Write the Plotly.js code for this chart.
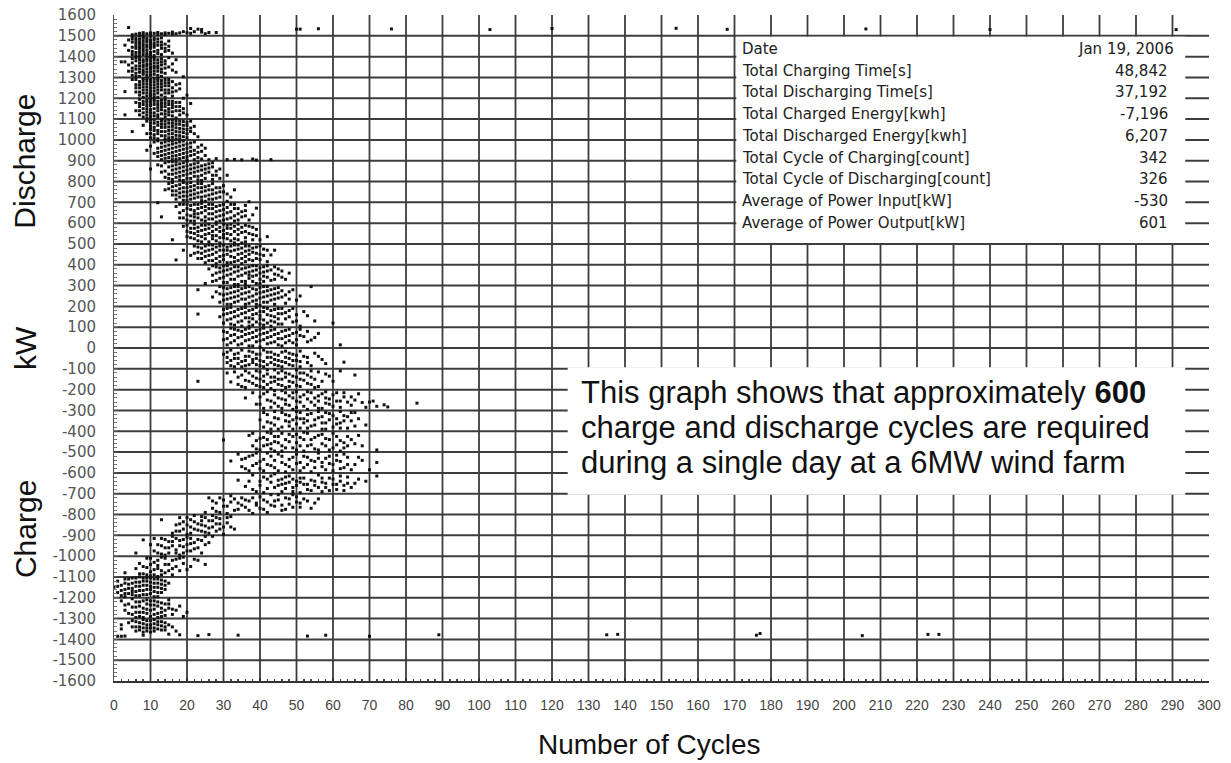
<!DOCTYPE html>
<html>
<head>
<meta charset="utf-8">
<script src="https://cdn.plot.ly/plotly-3.0.1.min.js"></script>
<style>html,body{margin:0;padding:0;background:#fff;}</style>
</head>
<body>
<div id="chart" style="width:1231px;height:763px;"></div>
<script>
// ---- Data: [cycles, kW] ----
const ptsTop = [[4,1540],[21,1535],[23,1532],[24,1530],[50,1532],[51,1532],[56,1534],[76,1533],[103,1530],[120,1535],[154,1536],[168,1531],[206,1533],[240,1530],[291,1530],
  [7,1512],[8,1515],[9,1510],[10,1514],[11,1512],[12,1516],[13,1510],[14,1514],[15,1512],[16,1518],[17,1510],[18,1514],[19,1520],[20,1515],[22,1520],[24,1518],[26,1516],
  [5,1505],[6,1508],[8,1505],[10,1506],[12,1505],[14,1506],[16,1508],[21,1512],[25,1510],[28,1516]];
const pts1400 = [[4,1480],[4,1430],[5,1495],[5,1470],[5,1445],[5,1410],[6,1490],[6,1465],[6,1440],[6,1420],[7,1500],[7,1485],[7,1460],[7,1435],[7,1405],[8,1495],[8,1475],[8,1450],[8,1425],[8,1410],[9,1490],[9,1470],[9,1455],[9,1430],[9,1415],[10,1498],[10,1480],[10,1460],[10,1440],[10,1420],[11,1490],[11,1465],[11,1445],[11,1405],[12,1485],[12,1455],[12,1430],[13,1470],[13,1440],[13,1410],[14,1460],[14,1425],[15,1450],[16,1417],[3,1455]];
const pts1400b = [[5,1485],[5,1425],[6,1478],[6,1452],[6,1405],[7,1472],[7,1448],[7,1420],[8,1488],[8,1462],[8,1438],[9,1480],[9,1445],[9,1405],[10,1470],[10,1450],[10,1410],[11,1480],[11,1455],[11,1425],[12,1470],[12,1415],[13,1490],[13,1455],[14,1440],[15,1475],[15,1430]];
const pts1300 = [[2,1375],[3,1375],[4,1360],[4,1330],[5,1390],[5,1345],[5,1310],[6,1380],[6,1355],[6,1320],[7,1395],[7,1370],[7,1340],[7,1305],[8,1385],[8,1360],[8,1335],[8,1315],[9,1390],[9,1365],[9,1340],[9,1310],[10,1380],[10,1350],[10,1325],[11,1395],[11,1370],[11,1345],[11,1315],[12,1385],[12,1355],[12,1330],[13,1375],[13,1340],[13,1305],[14,1365],[14,1320],[15,1395],[15,1350],[16,1335],[17,1325],[19,1303]];
const pts1300b = [[5,1370],[5,1330],[6,1395],[6,1340],[6,1305],[7,1385],[7,1355],[7,1325],[8,1375],[8,1350],[8,1325],[9,1380],[9,1355],[9,1325],[10,1395],[10,1365],[10,1340],[10,1310],[11,1385],[11,1355],[11,1330],[12,1370],[12,1345],[12,1310],[13,1390],[13,1360],[13,1325],[14,1380],[14,1345],[16,1365],[17,1385]];
const pts1200 = [[3,1232],[5,1290],[6,1265],[6,1230],[7,1280],[7,1250],[7,1215],[8,1295],[8,1270],[8,1240],[8,1205],[9,1285],[9,1255],[9,1225],[10,1290],[10,1265],[10,1235],[10,1210],[11,1280],[11,1250],[11,1220],[12,1295],[12,1270],[12,1240],[12,1205],[13,1285],[13,1255],[13,1215],[14,1275],[14,1240],[15,1290],[15,1260],[15,1225],[16,1250],[16,1210],[17,1265],[17,1235],[18,1245],[19,1200],[20,1215],[14,1205]];
const pts1200b = [[6,1290],[6,1250],[7,1265],[7,1230],[8,1285],[8,1255],[8,1225],[9,1295],[9,1270],[9,1240],[9,1210],[10,1280],[10,1250],[10,1222],[11,1295],[11,1265],[11,1235],[11,1207],[12,1285],[12,1255],[12,1225],[13,1270],[13,1240],[14,1290],[14,1260],[14,1225],[15,1275],[15,1240],[16,1280],[16,1230],[18,1270]];
const pts1100 = [[3,1120],[6,1180],[6,1140],[7,1195],[7,1160],[7,1120],[8,1185],[8,1150],[8,1110],[9,1190],[9,1165],[9,1135],[9,1105],[10,1180],[10,1145],[10,1115],[11,1195],[11,1170],[11,1130],[12,1185],[12,1155],[12,1120],[13,1190],[13,1160],[13,1125],[13,1100],[14,1175],[14,1140],[14,1110],[15,1185],[15,1150],[15,1120],[16,1170],[16,1135],[17,1160],[17,1105],[18,1180],[18,1140],[19,1150],[21,1175],[20,1120]];
const pts1100b = [[7,1175],[7,1140],[8,1170],[8,1130],[9,1180],[9,1150],[9,1120],[10,1195],[10,1165],[10,1130],[10,1105],[11,1185],[11,1150],[11,1115],[12,1170],[12,1140],[12,1108],[13,1175],[13,1145],[14,1190],[14,1160],[14,1125],[15,1170],[15,1135],[16,1185],[16,1155],[16,1115],[17,1180],[17,1140],[18,1160],[18,1120],[19,1130]];
const pts1000 = [[5,1040],[8,1070],[9,1090],[9,1030],[10,1080],[10,1050],[10,1010],[11,1095],[11,1060],[11,1025],[12,1085],[12,1045],[12,1005],[13,1075],[13,1040],[14,1090],[14,1060],[14,1020],[15,1080],[15,1045],[15,1010],[16,1095],[16,1065],[16,1030],[17,1075],[17,1040],[17,1005],[18,1090],[18,1055],[18,1020],[19,1070],[19,1035],[20,1085],[20,1050],[20,1010],[21,1057],[22,1030],[23,1015]];
const pts1000b = [[10,1095],[10,1065],[10,1030],[11,1080],[11,1045],[11,1010],[12,1070],[12,1030],[13,1090],[13,1060],[13,1020],[14,1075],[14,1040],[14,1005],[15,1095],[15,1062],[15,1028],[16,1080],[16,1048],[16,1012],[17,1090],[17,1058],[17,1022],[18,1075],[18,1038],[18,1005],[19,1088],[19,1052],[19,1015],[20,1070],[20,1030],[21,1090],[21,1040],[22,1065]];
const pts900 = [[9,950],[10,970],[11,990],[11,935],[12,960],[12,920],[13,985],[13,945],[13,905],[14,970],[14,930],[15,995],[15,955],[15,915],[16,980],[16,940],[16,905],[17,965],[17,925],[18,990],[18,950],[18,910],[19,975],[19,935],[20,960],[20,920],[21,985],[21,945],[22,930],[22,905],[23,965],[24,945],[24,908],[26,905],[28,910],[31,905],[33,906],[35,904],[38,908],[39,903],[43,905],[25,925]];
const pts900b = [[12,995],[12,940],[13,965],[13,925],[14,990],[14,950],[14,912],[15,975],[15,935],[16,995],[16,960],[16,922],[17,985],[17,945],[17,908],[18,970],[18,930],[19,995],[19,955],[19,915],[20,980],[20,940],[20,905],[21,965],[21,925],[22,990],[22,950],[23,940],[23,915],[24,975],[25,960]];
const pts800 = [[10,860],[12,880],[13,845],[14,890],[14,820],[15,870],[15,835],[16,895],[16,855],[16,810],[17,880],[17,840],[18,865],[18,825],[19,890],[19,850],[19,805],[20,875],[20,835],[21,860],[21,815],[22,885],[22,845],[23,870],[23,825],[24,855],[24,805],[25,880],[25,840],[26,865],[27,830],[28,850],[29,815],[31,830],[27,890]];
const pts800b = [[13,875],[14,850],[15,895],[15,815],[16,875],[16,835],[17,895],[17,860],[17,820],[18,885],[18,845],[18,808],[19,870],[19,830],[20,895],[20,855],[20,815],[21,880],[21,840],[22,865],[22,825],[23,890],[23,850],[23,808],[24,875],[24,830],[25,860],[25,815],[26,885],[26,845],[27,870],[27,810],[28,830],[29,860]];
const pts700 = [[14,760],[15,790],[16,775],[16,735],[17,755],[17,715],[18,785],[18,745],[19,770],[19,730],[20,790],[20,750],[20,710],[21,775],[21,735],[22,760],[22,720],[23,790],[23,745],[24,770],[24,725],[25,755],[25,705],[26,780],[26,735],[27,760],[27,715],[28,745],[29,770],[29,725],[30,750],[31,705],[32,725],[37,703],[12,698]];
const pts700b = [[15,765],[16,795],[16,755],[17,780],[17,735],[18,765],[18,725],[19,795],[19,750],[19,710],[20,770],[20,730],[21,795],[21,755],[21,715],[22,780],[22,740],[23,770],[23,725],[24,790],[24,750],[24,708],[25,775],[25,730],[26,760],[26,715],[27,790],[27,740],[28,770],[28,720],[29,750],[30,780],[31,740],[33,760]];
const pts600 = [[13,630],[17,680],[18,650],[19,690],[19,625],[20,670],[20,640],[21,685],[21,610],[22,660],[22,630],[23,690],[23,645],[24,675],[24,615],[25,660],[25,630],[26,690],[26,645],[27,670],[27,620],[28,655],[28,605],[29,685],[29,635],[30,665],[30,615],[31,650],[32,690],[32,625],[33,670],[33,610],[34,645],[35,630],[36,660],[37,615],[39,672],[38,640]];
const pts600b = [[18,690],[18,625],[19,660],[20,690],[20,615],[21,665],[21,635],[22,690],[22,645],[22,610],[23,670],[23,625],[24,695],[24,650],[25,680],[25,610],[26,670],[26,620],[27,690],[27,645],[28,680],[28,630],[29,660],[29,610],[30,690],[30,640],[31,675],[31,620],[32,655],[33,690],[33,635],[34,670],[34,615],[35,655],[36,685],[36,635]];
const pts500 = [[16,520],[19,585],[20,560],[21,575],[21,530],[22,595],[22,550],[23,580],[23,515],[24,565],[24,535],[25,590],[25,545],[26,575],[26,510],[27,560],[27,525],[28,595],[28,540],[29,580],[29,505],[30,565],[30,530],[31,590],[31,550],[32,575],[32,515],[33,560],[33,525],[34,595],[34,545],[35,580],[35,505],[36,560],[36,530],[37,585],[38,545],[39,570],[40,520],[42,535]];
const pts500b = [[20,590],[20,535],[21,555],[22,575],[22,525],[23,560],[23,540],[24,590],[24,510],[25,570],[25,525],[26,595],[26,550],[27,585],[27,540],[28,570],[28,515],[29,560],[29,530],[30,595],[30,545],[31,575],[31,525],[32,595],[32,545],[33,585],[33,505],[34,570],[34,520],[35,555],[36,590],[36,510],[37,550],[38,580],[38,520],[39,540]];
const pts400 = [[17,423],[19,470],[21,445],[22,490],[23,460],[24,480],[24,430],[25,465],[25,410],[26,495],[26,445],[27,475],[27,420],[28,460],[28,405],[29,490],[29,440],[30,470],[30,425],[31,485],[31,450],[32,465],[32,410],[33,495],[33,435],[34,475],[34,420],[35,455],[35,405],[36,490],[36,440],[37,470],[37,425],[38,460],[39,485],[39,430],[40,450],[41,475],[42,415],[43,447],[44,470]];
const pts400b = [[22,455],[23,485],[23,430],[24,455],[25,490],[25,440],[26,470],[26,420],[27,495],[27,450],[28,485],[28,430],[29,470],[29,415],[30,495],[30,445],[31,470],[31,410],[32,490],[32,440],[33,470],[33,415],[34,495],[34,450],[35,480],[35,430],[36,465],[36,415],[37,490],[37,450],[38,480],[38,420],[39,455],[40,490],[40,425],[41,445],[42,470]];
const pts300 = [[25,310],[26,380],[27,350],[28,390],[28,325],[29,365],[30,395],[30,340],[31,375],[31,315],[32,355],[33,390],[33,330],[34,370],[34,305],[35,350],[36,385],[36,320],[37,365],[37,335],[38,395],[38,345],[39,375],[39,310],[40,360],[40,330],[41,390],[41,345],[42,370],[43,325],[44,355],[45,380],[46,340],[48,360]];
const pts300b = [[27,395],[27,320],[28,360],[29,385],[29,335],[30,370],[30,315],[31,395],[31,350],[32,380],[32,330],[33,365],[33,305],[34,390],[34,345],[35,380],[35,320],[36,360],[36,305],[37,390],[37,350],[38,370],[38,320],[39,395],[39,350],[40,385],[40,310],[41,365],[41,320],[42,395],[42,340],[43,375],[44,390],[44,330],[45,350],[46,370],[47,330]];
const pts200 = [[23,280],[27,245],[28,270],[29,295],[29,220],[30,255],[31,285],[31,235],[32,265],[32,210],[33,295],[33,245],[34,275],[34,225],[35,260],[36,290],[36,235],[37,270],[37,215],[38,250],[39,280],[39,230],[40,265],[40,205],[41,295],[41,245],[42,275],[42,220],[43,255],[44,285],[44,235],[45,265],[46,245],[47,215],[48,270],[50,230],[51,250],[54,295]];
const pts200b = [[29,260],[30,290],[30,230],[31,260],[31,210],[32,290],[32,240],[33,270],[33,220],[34,295],[34,250],[35,285],[35,235],[36,265],[36,210],[37,295],[37,245],[38,285],[38,225],[39,260],[39,210],[40,290],[40,240],[41,270],[41,220],[42,295],[42,250],[43,280],[43,230],[44,260],[44,210],[45,290],[45,240],[46,275],[47,255],[48,235],[49,280]];
const pts100 = [[23,163],[29,150],[30,185],[30,120],[31,165],[32,195],[32,140],[33,175],[33,110],[34,155],[35,190],[35,130],[36,170],[37,145],[37,105],[38,185],[38,160],[39,125],[40,175],[40,140],[41,195],[41,110],[42,160],[43,180],[43,130],[44,150],[45,190],[45,115],[46,165],[47,140],[48,180],[49,125],[50,160],[51,105],[53,155],[55,130],[60,120]];
const pts100b = [[30,160],[31,190],[31,135],[32,170],[32,115],[33,150],[34,185],[34,125],[35,165],[35,105],[36,195],[36,145],[37,180],[37,125],[38,140],[38,110],[39,195],[39,165],[40,155],[40,115],[41,175],[41,135],[42,190],[42,120],[43,155],[43,105],[44,185],[44,125],[45,165],[45,140],[46,190],[46,115],[47,170],[48,150],[49,190],[50,130],[52,175]];
const pts0 = [[30,80],[31,45],[32,95],[32,25],[33,65],[34,85],[34,15],[35,55],[36,90],[36,35],[37,70],[38,50],[38,10],[39,85],[39,30],[40,65],[41,95],[41,40],[42,75],[42,20],[43,55],[44,90],[44,30],[45,70],[46,45],[46,10],[47,85],[48,60],[49,25],[50,75],[50,40],[51,90],[52,55],[54,38],[56,70],[62,15]];
const pts0b = [[30,40],[31,75],[31,15],[32,60],[33,90],[33,35],[34,50],[35,80],[35,20],[36,65],[37,95],[37,40],[37,10],[38,75],[39,55],[40,90],[40,35],[40,5],[41,70],[42,50],[43,85],[43,25],[44,65],[45,45],[45,15],[46,80],[47,55],[47,25],[48,90],[48,35],[49,70],[50,15],[51,60],[53,80],[53,30],[55,50]];
const ptsM0 = [[30,-30],[31,-70],[32,-10],[33,-50],[33,-90],[34,-25],[35,-65],[36,-40],[36,-85],[37,-15],[38,-55],[39,-80],[39,-30],[40,-60],[41,-10],[41,-90],[42,-45],[43,-70],[43,-20],[44,-55],[45,-85],[45,-35],[46,-65],[47,-15],[48,-50],[48,-80],[49,-30],[50,-60],[51,-90],[52,-40],[53,-70],[55,-25],[57,-55],[63,-68]];
const ptsM0b = [[31,-45],[31,-20],[32,-60],[32,-85],[33,-30],[34,-75],[34,-50],[35,-10],[35,-90],[36,-60],[37,-40],[37,-80],[38,-20],[38,-70],[39,-50],[40,-30],[40,-85],[41,-65],[42,-20],[42,-80],[43,-45],[44,-30],[44,-80],[45,-60],[46,-20],[46,-90],[47,-45],[47,-70],[48,-25],[49,-60],[49,-85],[50,-35],[51,-15],[51,-65],[53,-45],[54,-85],[56,-40],[58,-75]];
const ptsM100 = [[23,-160],[31,-120],[32,-163],[34,-140],[35,-185],[36,-110],[37,-160],[38,-135],[39,-180],[40,-115],[40,-150],[41,-190],[42,-125],[43,-165],[44,-140],[44,-105],[45,-175],[46,-150],[47,-120],[47,-190],[48,-160],[49,-135],[50,-105],[50,-180],[51,-150],[52,-120],[53,-170],[54,-140],[55,-190],[56,-115],[57,-160],[59,-135],[62,-110],[66,-130]];
const ptsM100b = [[33,-115],[34,-175],[35,-130],[36,-155],[36,-190],[37,-120],[38,-170],[39,-145],[39,-110],[40,-185],[41,-135],[41,-160],[42,-105],[42,-175],[43,-140],[43,-195],[44,-160],[45,-120],[45,-150],[46,-110],[46,-180],[47,-140],[48,-125],[48,-185],[49,-165],[50,-140],[51,-120],[51,-185],[52,-155],[53,-130],[54,-110],[54,-175],[55,-150],[56,-185],[58,-125],[60,-160]];
const ptsM200 = [[36,-240],[38,-215],[39,-270],[40,-235],[41,-290],[42,-210],[43,-255],[44,-225],[45,-280],[46,-205],[46,-245],[47,-270],[48,-230],[49,-295],[49,-215],[50,-255],[51,-235],[52,-280],[53,-210],[54,-260],[55,-240],[56,-290],[57,-220],[58,-265],[59,-245],[60,-280],[61,-215],[62,-255],[63,-235],[65,-275],[66,-250],[68,-262],[70,-260],[72,-280],[74,-273],[75,-283],[83,-265]];
const ptsM200b = [[40,-270],[41,-220],[42,-250],[43,-285],[44,-205],[44,-265],[45,-240],[46,-290],[47,-215],[47,-250],[48,-275],[49,-240],[50,-210],[50,-285],[51,-260],[52,-225],[53,-295],[53,-245],[54,-215],[55,-275],[56,-230],[56,-255],[57,-290],[58,-210],[58,-240],[59,-270],[60,-225],[61,-255],[62,-285],[63,-215],[64,-260],[65,-235],[67,-220],[69,-285],[71,-255]];
const ptsM300 = [[40,-345],[41,-380],[42,-320],[43,-360],[44,-335],[45,-390],[46,-310],[47,-350],[48,-375],[48,-325],[49,-345],[50,-305],[51,-385],[51,-340],[52,-360],[53,-320],[54,-375],[55,-345],[56,-305],[57,-390],[57,-330],[58,-360],[59,-315],[60,-380],[61,-340],[62,-360],[63,-325],[64,-385],[65,-350],[66,-310],[69,-370],[67,-340]];
const ptsM300b = [[41,-310],[42,-355],[43,-390],[44,-305],[44,-370],[45,-340],[46,-380],[47,-320],[48,-355],[49,-390],[50,-335],[50,-365],[51,-310],[52,-340],[53,-385],[53,-350],[54,-315],[55,-370],[56,-335],[57,-360],[58,-310],[58,-390],[59,-345],[60,-325],[61,-365],[62,-305],[62,-385],[63,-350],[64,-330],[65,-310],[66,-375]];
const ptsM400 = [[30,-442],[37,-420],[38,-470],[39,-445],[40,-490],[41,-430],[42,-465],[43,-410],[43,-485],[44,-450],[45,-425],[46,-495],[46,-470],[47,-440],[48,-415],[49,-480],[50,-455],[51,-430],[52,-495],[52,-405],[53,-470],[54,-440],[55,-485],[56,-420],[57,-460],[58,-435],[59,-490],[60,-410],[61,-465],[62,-445],[63,-480],[64,-425],[66,-460],[68,-470],[72,-490]];
const ptsM400b = [[38,-410],[39,-485],[40,-435],[41,-470],[42,-405],[42,-440],[43,-460],[44,-425],[44,-495],[45,-455],[46,-410],[47,-480],[48,-450],[49,-425],[50,-490],[50,-415],[51,-470],[52,-440],[53,-410],[54,-465],[55,-430],[56,-490],[57,-415],[58,-470],[59,-440],[60,-480],[61,-425],[62,-495],[63,-455],[64,-470],[65,-440],[67,-420]];
const ptsM500 = [[32,-543],[34,-510],[35,-570],[36,-530],[37,-590],[38,-515],[39,-555],[40,-580],[41,-535],[42,-505],[43,-565],[44,-540],[45,-590],[46,-520],[47,-560],[48,-535],[49,-585],[50,-510],[51,-550],[52,-575],[53,-525],[54,-595],[55,-545],[56,-505],[57,-570],[58,-530],[59,-555],[60,-590],[61,-515],[62,-545],[63,-575],[64,-525],[66,-560],[68,-540],[72,-550],[70,-585]];
const ptsM500b = [[35,-535],[36,-580],[37,-520],[38,-565],[39,-505],[40,-545],[41,-590],[42,-560],[43,-520],[44,-575],[45,-510],[46,-550],[47,-595],[48,-570],[49,-525],[50,-555],[51,-590],[52,-520],[53,-560],[54,-540],[55,-575],[56,-530],[57,-550],[58,-585],[59,-520],[60,-560],[61,-540],[62,-580],[63,-510],[64,-560],[65,-585],[67,-525]];
const ptsM600 = [[34,-635],[36,-665],[38,-610],[39,-690],[40,-640],[41,-620],[42,-675],[43,-645],[44,-605],[45,-660],[46,-690],[46,-630],[47,-650],[48,-615],[49,-670],[50,-640],[51,-695],[51,-625],[52,-655],[53,-680],[54,-635],[55,-660],[56,-610],[57,-690],[57,-645],[58,-670],[59,-625],[60,-655],[61,-680],[62,-640],[63,-660],[64,-620],[66,-650],[69,-640],[72,-615]];
const ptsM600b = [[37,-640],[38,-680],[40,-660],[41,-695],[42,-630],[43,-615],[44,-670],[45,-635],[46,-655],[47,-675],[47,-620],[48,-645],[49,-690],[49,-630],[50,-660],[51,-645],[52,-625],[53,-655],[54,-685],[55,-640],[56,-670],[57,-625],[58,-650],[59,-685],[60,-630],[61,-655],[62,-615],[63,-685],[64,-650],[65,-670],[67,-630]];
const ptsM700 = [[25,-790],[26,-720],[27,-770],[28,-745],[29,-790],[30,-730],[31,-760],[32,-710],[33,-780],[34,-745],[35,-720],[36,-765],[37,-735],[38,-795],[39,-755],[40,-715],[41,-775],[42,-740],[43,-705],[44,-760],[45,-730],[46,-780],[47,-720],[48,-750],[49,-705],[50,-740],[51,-765],[52,-725],[54,-770],[55,-745]];
const ptsM700b = [[27,-735],[28,-785],[29,-720],[30,-760],[31,-795],[32,-740],[33,-725],[34,-775],[35,-755],[36,-730],[37,-780],[38,-720],[39,-745],[40,-770],[41,-730],[42,-790],[43,-755],[44,-735],[45,-705],[46,-755],[47,-775],[48,-725],[49,-765],[50,-715],[51,-745],[53,-735],[56,-725]];
const ptsM800 = [[13,-825],[17,-880],[18,-845],[19,-870],[20,-815],[21,-860],[21,-890],[22,-835],[23,-875],[24,-810],[24,-850],[25,-885],[26,-830],[26,-865],[27,-805],[28,-845],[28,-880],[29,-820],[30,-860],[31,-840],[32,-810],[33,-870],[30,-895],[22,-805]];
const ptsM800b = [[16,-890],[17,-850],[18,-815],[18,-880],[19,-835],[20,-895],[20,-850],[21,-825],[22,-870],[23,-845],[24,-830],[24,-880],[25,-855],[25,-815],[26,-890],[27,-860],[27,-830],[28,-815],[29,-870],[29,-845],[31,-815],[32,-860]];
const ptsM900 = [[6,-985],[8,-922],[11,-975],[12,-945],[13,-990],[13,-915],[14,-960],[15,-930],[15,-985],[16,-905],[16,-950],[17,-970],[18,-925],[18,-995],[19,-955],[20,-910],[20,-975],[21,-940],[22,-965],[23,-920],[24,-985],[25,-945],[26,-935],[27,-905]];
const ptsM900b = [[10,-945],[11,-915],[12,-985],[13,-950],[14,-920],[14,-995],[15,-960],[16,-930],[17,-915],[17,-985],[18,-950],[19,-920],[19,-985],[20,-945],[21,-915],[21,-975],[22,-935],[23,-960],[24,-925],[25,-905]];
const ptsM1000 = [[3,-1080],[6,-1060],[7,-1035],[8,-1085],[9,-1010],[9,-1055],[10,-1075],[11,-1030],[12,-1060],[13,-1005],[13,-1090],[14,-1040],[15,-1070],[16,-1020],[17,-1050],[18,-1010],[19,-1035],[20,-1065],[23,-1020],[25,-1040],[10,-1095],[12,-1098]];
const ptsM1000b = [[7,-1085],[8,-1050],[9,-1090],[10,-1040],[10,-1010],[11,-1065],[11,-1090],[12,-1020],[12,-1045],[13,-1070],[14,-1010],[14,-1080],[15,-1040],[16,-1060],[16,-1090],[17,-1015],[18,-1070],[19,-1005],[21,-1050],[22,-1015]];
const ptsM1100 = [[0,-1150],[1,-1120],[1,-1175],[2,-1140],[2,-1190],[3,-1110],[3,-1160],[4,-1135],[4,-1180],[5,-1105],[5,-1155],[6,-1125],[6,-1170],[7,-1100],[7,-1145],[7,-1190],[8,-1120],[8,-1165],[9,-1105],[9,-1140],[9,-1185],[10,-1125],[10,-1160],[11,-1110],[11,-1150],[11,-1195],[12,-1130],[12,-1175],[13,-1115],[13,-1155],[14,-1140],[3,-1195],[5,-1185]];
const ptsM1100b = [[1,-1145],[2,-1165],[3,-1130],[3,-1180],[4,-1110],[4,-1155],[5,-1130],[5,-1170],[6,-1105],[6,-1145],[6,-1190],[7,-1125],[7,-1165],[8,-1105],[8,-1140],[8,-1185],[9,-1120],[9,-1160],[10,-1105],[10,-1145],[10,-1180],[11,-1130],[11,-1170],[12,-1110],[12,-1150],[12,-1195],[13,-1135],[13,-1175],[14,-1120],[14,-1160],[15,-1130]];
const ptsM1200 = [[2,-1215],[3,-1260],[4,-1230],[5,-1280],[5,-1205],[6,-1245],[7,-1270],[7,-1220],[8,-1295],[8,-1250],[9,-1210],[9,-1275],[10,-1235],[10,-1290],[11,-1255],[11,-1215],[12,-1275],[12,-1240],[13,-1225],[13,-1290],[14,-1260],[15,-1250],[16,-1280],[17,-1260],[18,-1240],[19,-1290],[15,-1210],[6,-1295]];
const ptsM1200b = [[3,-1235],[4,-1275],[5,-1245],[6,-1220],[6,-1270],[7,-1240],[7,-1290],[8,-1215],[8,-1270],[9,-1230],[9,-1255],[10,-1215],[10,-1260],[11,-1235],[11,-1280],[12,-1220],[12,-1295],[13,-1250],[13,-1270],[14,-1230],[14,-1285],[15,-1230],[16,-1255],[20,-1270]];
const ptsM1300 = [[1,-1385],[2,-1385],[3,-1384],[2,-1330],[2,-1350],[5,-1310],[6,-1340],[7,-1320],[7,-1355],[8,-1305],[8,-1345],[9,-1330],[9,-1360],[10,-1310],[10,-1345],[11,-1325],[11,-1360],[12,-1315],[12,-1350],[13,-1335],[14,-1320],[14,-1355],[16,-1340],[17,-1360],[8,-1380],[15,-1375],[18,-1378],[23,-1382],[26,-1377],[34,-1380],[53,-1384],[58,-1380],[70,-1385],[89,-1378],[135,-1378],[138,-1376],[176,-1380],[177,-1372],[205,-1382],[223,-1376],[226,-1376]];
const ptsM1300b = [[5,-1340],[6,-1315],[6,-1360],[7,-1340],[8,-1325],[8,-1365],[9,-1310],[9,-1345],[10,-1330],[10,-1365],[11,-1305],[11,-1345],[12,-1330],[13,-1315],[13,-1355],[14,-1340],[15,-1330],[4,-1320]];

// ---- Axes and text ----
const xTickValues = [0,10,20,30,40,50,60,70,80,90,100,110,120,130,140,150,160,170,180,190,200,210,220,230,240,250,260,270,280,290,300];
const yTickValues = [1600,1500,1400,1300,1200,1100,1000,900,800,700,600,500,400,300,200,100,0,-100,-200,-300,-400,-500,-600,-700,-800,-900,-1000,-1100,-1200,-1300,-1400,-1500,-1600];
const tableLabels = ["Date","Total Charging Time[s]","Total Discharging Time[s]","Total Charged Energy[kwh]","Total Discharged Energy[kwh]","Total Cycle of Charging[count]","Total Cycle of Discharging[count]","Average of Power Input[kW]","Average of Power Output[kW]"];
const tableValues = ["Jan 19, 2006","48,842","37,192","-7,196","6,207","342","326","-530","601"];
const noteLines = ["This graph shows that approximately <b>600</b>","charge and discharge cycles are required","during a single day at a 6MW wind farm"];
const yTitleParts = [["Discharge", 900],["kW", 0],["Charge", -870]];

const allPts = [].concat(ptsTop,pts1400,pts1400b,pts1300,pts1300b,pts1200,pts1200b,pts1100,pts1100b,pts1000,pts1000b,pts900,pts900b,pts800,pts800b,pts700,pts700b,pts600,pts600b,pts500,pts500b,pts400,pts400b,pts300,pts300b,pts200,pts200b,pts100,pts100b,pts0,pts0b,ptsM0,ptsM0b,ptsM100,ptsM100b,ptsM200,ptsM200b,ptsM300,ptsM300b,ptsM400,ptsM400b,ptsM500,ptsM500b,ptsM600,ptsM600b,ptsM700,ptsM700b,ptsM800,ptsM800b,ptsM900,ptsM900b,ptsM1000,ptsM1000b,ptsM1100,ptsM1100b,ptsM1200,ptsM1200b,ptsM1300,ptsM1300b);

const trace = {
  type: 'scatter', mode: 'markers',
  x: allPts.map(p => p[0]), y: allPts.map(p => p[1]),
  marker: {symbol: 'square', size: 3, color: '#111', line: {width: 0}},
  hoverinfo: 'x+y', showlegend: false
};

const grid = '#3c3c3c';
const shapes = [];
yTickValues.filter(v => v > -1600 && v < 1600).forEach(v => shapes.push({type:'line', xref:'x', yref:'y', x0:0, x1:300, y0:v, y1:v, line:{color:grid, width:2}, layer:'below'}));
xTickValues.filter(v => v > 0 && v < 300).forEach(v => shapes.push({type:'line', xref:'x', yref:'y', x0:v, x1:v, y0:-1600, y1:1600, line:{color:grid, width:1.8}, layer:'below'}));
// info table box and note box
shapes.push({type:'rect', xref:'x', yref:'y', x0:170.5, x1:293.5, y0:504, y1:1496, fillcolor:'#fff', line:{width:0}, layer:'above'});
shapes.push({type:'rect', xref:'x', yref:'y', x0:124.3, x1:293.5, y0:-705, y1:-93, fillcolor:'#fff', line:{width:0}, layer:'above'});

const annotations = [];
tableLabels.forEach((t, i) => {
  const yv = 1437 - i * 104.5;
  annotations.push({xref:'x', yref:'y', x:171.6, y:yv, text:t, showarrow:false, xanchor:'left', yanchor:'middle', font:{family:'DejaVu Sans', size:15, color:'#222'}});
  annotations.push({xref:'x', yref:'y', x:(i === 0 ? 291 : 289.4), y:yv, text:tableValues[i], showarrow:false, xanchor:'right', yanchor:'middle', font:{family:'DejaVu Sans', size:15, color:'#222'}});
});
noteLines.forEach((t, i) => {
  annotations.push({xref:'x', yref:'y', x:127.5, y:-212 - i * 170, text:t, showarrow:false, xanchor:'left', yanchor:'middle', font:{family:'Liberation Sans, Arial, sans-serif', size:31, color:'#111'}});
});
yTitleParts.forEach(p => {
  annotations.push({xref:'paper', yref:'y', x:-0.0813, y:p[1], text:p[0], showarrow:false, textangle:-90, xanchor:'center', yanchor:'middle', font:{family:'Liberation Sans, Arial, sans-serif', size:30, color:'#111'}});
});
annotations.push({xref:'x', yref:'paper', x:146.8, y:-0.096, text:'Number of Cycles', showarrow:false, xanchor:'center', yanchor:'middle', font:{family:'Liberation Sans, Arial, sans-serif', size:28, color:'#111'}});

const layout = {
  width: 1231, height: 763,
  margin: {l:114, r:22, t:15, b:82, pad:0},
  paper_bgcolor: '#fff', plot_bgcolor: '#fff',
  showlegend: false,
  xaxis: {
    range:[0,300], tickvals: xTickValues, ticktext: xTickValues.map(String),
    showgrid:false, zeroline:false, showline:true, linecolor:'#333', linewidth:2,
    ticks:'inside', ticklen:3, tickcolor:'#333', tickwidth:1.5,
    minor:{dtick:2, ticks:'inside', ticklen:2, tickcolor:'#444', tickwidth:1.5, showgrid:false},
    ticklabelstandoff: 10,
    tickfont:{family:'Liberation Sans, Arial, sans-serif', size:14, color:'#444'}
  },
  yaxis: {
    range:[-1600,1600], tickvals: yTickValues, ticktext: yTickValues.map(String),
    showgrid:false, zeroline:false, showline:true, linecolor:'#555', linewidth:1,
    ticks:'inside', ticklen:4, tickcolor:'#555', tickwidth:1,
    minor:{dtick:20, ticks:'inside', ticklen:3, tickcolor:'#777', tickwidth:1, showgrid:false},
    ticklabelstandoff: 14,
    tickfont:{family:'DejaVu Sans, sans-serif', size:15, color:'#555'}
  },
  shapes: shapes,
  annotations: annotations
};

Plotly.newPlot('chart', [trace], layout, {displayModeBar:false, staticPlot:true});
</script>
</body>
</html>
